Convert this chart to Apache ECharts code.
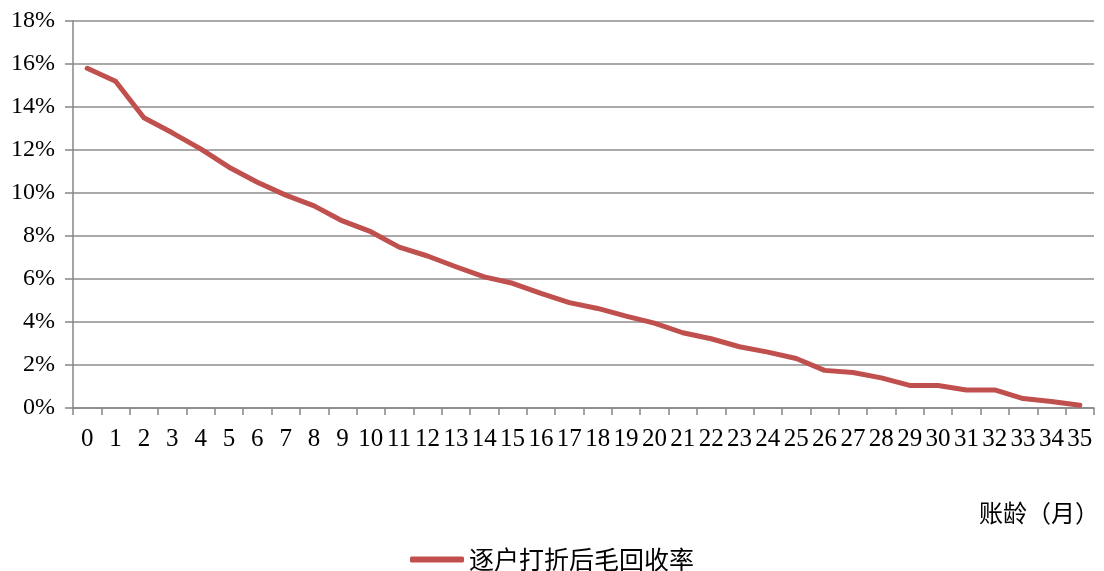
<!DOCTYPE html>
<html>
<head>
<meta charset="utf-8">
<script src="https://cdn.jsdelivr.net/npm/echarts@6/dist/echarts.min.js"></script>
<style>
  html, body { margin: 0; padding: 0; background: #ffffff; }
  #chart { width: 1104px; height: 571px; }
</style>
</head>
<body>
<div id="chart"></div>
<script>
// 账龄（月）
const months = ['0','1','2','3','4','5','6','7','8','9','10','11','12','13','14','15','16','17',
  '18','19','20','21','22','23','24','25','26','27','28','29','30','31','32','33','34','35'];
// 逐户打折后毛回收率（%）
const recoveryRate = [15.8, 15.2, 13.5, 12.8, 12.05, 11.2, 10.5, 9.9, 9.4, 8.7, 8.2, 7.48, 7.07, 6.57, 6.1, 5.8,
  5.33, 4.9, 4.63, 4.27, 3.95, 3.5, 3.22, 2.85, 2.6, 2.3, 1.75, 1.65, 1.4, 1.05, 1.05, 0.84, 0.84, 0.44, 0.3, 0.13];
const yTicks = { min: 0, max: 18, step: 2 };

const serif = '"Liberation Serif", "Times New Roman", serif';
const cjk = '"Noto Sans CJK SC", "Liberation Serif", serif';

const chart = echarts.init(document.getElementById('chart'));
chart.setOption({
  animation: false,
  title: {
    text: '账龄（月）',
    right: 0,
    top: 496,
    textStyle: { fontFamily: cjk, fontSize: 24, fontWeight: 'normal', color: '#000' }
  },
  legend: {
    data: ['逐户打折后毛回收率'],
    left: 'center',
    top: 542,
    icon: 'roundRect',
    itemWidth: 54,
    itemHeight: 6,
    itemGap: 10,
    textStyle: { fontFamily: cjk, fontSize: 25, color: '#000' }
  },
  grid: { left: 73, right: 10, top: 21, bottom: 163, containLabel: false },
  xAxis: {
    type: 'category',
    data: months,
    boundaryGap: true,
    axisLine: { lineStyle: { color: '#868686', width: 1.5 } },
    axisTick: { show: true, length: 7, lineStyle: { color: '#868686', width: 1.5 } },
    axisLabel: { interval: 0, margin: 19, color: '#000', fontFamily: serif, fontSize: 25 }
  },
  yAxis: {
    type: 'value',
    min: yTicks.min,
    max: yTicks.max,
    interval: yTicks.step,
    axisLine: { show: true, lineStyle: { color: '#868686', width: 1.5 } },
    axisTick: { show: true, length: 8, lineStyle: { color: '#868686', width: 1.5 } },
    splitLine: { lineStyle: { color: '#8c8c8c', width: 1.5 } },
    axisLabel: { formatter: '{value}%', margin: 18, color: '#000', fontFamily: serif, fontSize: 24 }
  },
  series: [
    {
      name: '逐户打折后毛回收率',
      type: 'line',
      data: recoveryRate,
      showSymbol: false,
      symbol: 'none',
      lineStyle: { color: '#C0504D', width: 5, cap: 'round', join: 'round' },
      itemStyle: { color: '#C0504D' }
    }
  ]
});
</script>
</body>
</html>
